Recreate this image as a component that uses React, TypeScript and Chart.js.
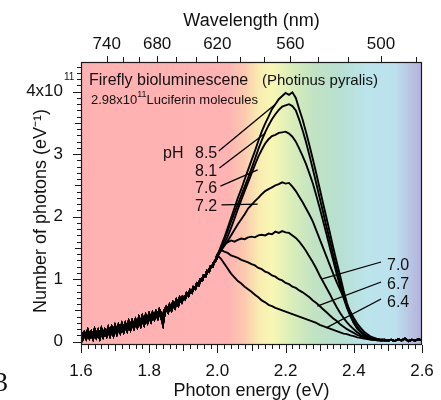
import React, { useEffect, useRef } from "react";
import { Chart, registerables } from "chart.js";

Chart.register(...registerables);

const FONT = '"Liberation Sans", Arial, Helvetica, sans-serif';
const HC = 1239.84; // eV·nm, photon energy = HC / wavelength

// ---- axis ticks / labels ----
const energyTicks = [1.6, 1.8, 2.0, 2.2, 2.4, 2.6];
const countTicks = [0, 1, 2, 3, 4];
const countTickLabels = ["0", "1", "2", "3", "4x10"];
const wavelengthLabels = [740, 680, 620, 560, 500];
const wavelengthMinor = [740, 720, 700, 680, 660, 640, 620, 600, 580, 560, 540, 520, 500, 480];

// ---- shared low-energy rise (all pH) ----
const riseEnergy = [
  1.6, 1.605, 1.61, 1.615, 1.62, 1.625, 1.63, 1.635, 1.64, 1.645,
  1.65, 1.655, 1.66, 1.665, 1.67, 1.675, 1.68, 1.685, 1.69, 1.695,
  1.7, 1.705, 1.71, 1.715, 1.72, 1.725, 1.73, 1.735, 1.74, 1.745,
  1.75, 1.755, 1.76, 1.765, 1.77, 1.775, 1.78, 1.785, 1.79, 1.795,
  1.8, 1.805, 1.81, 1.815, 1.82, 1.825, 1.83, 1.835, 1.84, 1.845,
  1.85, 1.855, 1.86, 1.865, 1.87, 1.875, 1.88, 1.885, 1.89, 1.895,
  1.9, 1.905, 1.91, 1.915, 1.92, 1.925, 1.93, 1.935, 1.94, 1.945,
  1.95, 1.955, 1.96, 1.965, 1.97, 1.975, 1.98, 1.985, 1.99, 1.995,
];
const riseCounts = [
  0.15, 0.06, 0.13, 0.07, 0.16, 0.08, 0.14, 0.07, 0.17, 0.09,
  0.16, 0.08, 0.18, 0.10, 0.17, 0.11, 0.20, 0.12, 0.21, 0.13,
  0.23, 0.15, 0.24, 0.17, 0.26, 0.18, 0.27, 0.20, 0.30, 0.22,
  0.31, 0.24, 0.33, 0.26, 0.36, 0.28, 0.38, 0.30, 0.40, 0.33,
  0.42, 0.35, 0.44, 0.38, 0.46, 0.40, 0.49, 0.43, 0.32, 0.49,
  0.54, 0.49, 0.57, 0.52, 0.61, 0.56, 0.65, 0.60, 0.69, 0.65,
  0.73, 0.69, 0.77, 0.74, 0.82, 0.79, 0.87, 0.85, 0.93, 0.91,
  0.99, 0.98, 1.06, 1.05, 1.13, 1.12, 1.20, 1.20, 1.27, 1.30,
];

// ---- pH-dependent part ----
const branchEnergy = [
  2.0, 2.01, 2.02, 2.03, 2.04, 2.05, 2.06, 2.07, 2.08, 2.09,
  2.1, 2.11, 2.12, 2.13, 2.14, 2.15, 2.16, 2.17, 2.18, 2.19,
  2.2, 2.21, 2.22, 2.23, 2.24, 2.25, 2.26, 2.27, 2.28, 2.29,
  2.3, 2.31, 2.32, 2.33, 2.34, 2.35, 2.36, 2.37, 2.38, 2.39,
  2.4, 2.41, 2.42, 2.43, 2.44, 2.45, 2.46, 2.47, 2.48, 2.49, 2.5,
];
const ph85 = [
  1.38, 1.52, 1.66, 1.82, 1.98, 2.14, 2.30, 2.44, 2.60, 2.75,
  2.90, 3.05, 3.21, 3.36, 3.49, 3.60, 3.72, 3.80, 3.88, 3.93,
  3.98, 3.95, 3.99, 3.90, 3.72, 3.55, 3.35, 3.14, 2.92, 2.69,
  2.45, 2.21, 1.98, 1.74, 1.50, 1.27, 1.05, 0.82, 0.62, 0.45,
  0.33, 0.24, 0.17, 0.12, 0.09, 0.07, 0.05, 0.04, 0.03, 0.03, 0.02,
];
const ph81 = [
  1.38, 1.50, 1.63, 1.77, 1.92, 2.06, 2.20, 2.34, 2.48, 2.62,
  2.77, 2.92, 3.08, 3.22, 3.35, 3.46, 3.56, 3.64, 3.71, 3.76,
  3.78, 3.80, 3.77, 3.70, 3.55, 3.38, 3.19, 2.98, 2.76, 2.53,
  2.30, 2.07, 1.84, 1.61, 1.38, 1.16, 0.95, 0.75, 0.57, 0.42,
  0.30, 0.21, 0.15, 0.11, 0.08, 0.06, 0.05, 0.04, 0.03, 0.03, 0.02,
];
const ph76 = [
  1.36, 1.47, 1.57, 1.68, 1.82, 1.97, 2.12, 2.27, 2.41, 2.55,
  2.69, 2.83, 2.96, 3.07, 3.17, 3.24, 3.29, 3.31, 3.34, 3.35,
  3.36, 3.33, 3.28, 3.20, 3.09, 2.97, 2.84, 2.69, 2.53, 2.34,
  2.14, 1.93, 1.72, 1.50, 1.29, 1.08, 0.88, 0.70, 0.54, 0.41,
  0.30, 0.22, 0.16, 0.11, 0.08, 0.06, 0.05, 0.04, 0.03, 0.02, 0.02,
];
const ph72 = [
  1.36, 1.45, 1.53, 1.61, 1.70, 1.79, 1.88, 1.96, 2.04, 2.13,
  2.19, 2.25, 2.30, 2.36, 2.41, 2.44, 2.47, 2.50, 2.52, 2.55,
  2.53, 2.54, 2.48, 2.41, 2.32, 2.23, 2.13, 2.03, 1.92, 1.78,
  1.64, 1.50, 1.36, 1.22, 1.08, 0.95, 0.83, 0.71, 0.59, 0.48,
  0.38, 0.29, 0.22, 0.16, 0.12, 0.08, 0.06, 0.04, 0.03, 0.03, 0.02,
];
const ph70 = [
  1.38, 1.48, 1.55, 1.59, 1.62, 1.60, 1.63, 1.65, 1.64, 1.67,
  1.68, 1.67, 1.70, 1.71, 1.70, 1.73, 1.72, 1.76, 1.74, 1.77,
  1.75, 1.74, 1.70, 1.66, 1.60, 1.53, 1.45, 1.36, 1.27, 1.17,
  1.06, 0.96, 0.86, 0.76, 0.65, 0.55, 0.46, 0.38, 0.31, 0.25,
  0.20, 0.15, 0.11, 0.08, 0.06, 0.04, 0.03, 0.03, 0.02, 0.03, 0.02,
];
const ph67 = [
  1.40, 1.47, 1.44, 1.42, 1.38, 1.36, 1.34, 1.31, 1.29, 1.27,
  1.24, 1.22, 1.18, 1.16, 1.12, 1.10, 1.06, 1.04, 1.00, 0.98,
  0.94, 0.92, 0.88, 0.86, 0.82, 0.79, 0.75, 0.71, 0.66, 0.62,
  0.57, 0.52, 0.47, 0.42, 0.37, 0.33, 0.28, 0.24, 0.20, 0.17,
  0.14, 0.11, 0.09, 0.07, 0.05, 0.04, 0.03, 0.03, 0.02, 0.02, 0.02,
];
const ph64 = [
  1.38, 1.33, 1.25, 1.17, 1.09, 1.03, 0.97, 0.93, 0.88, 0.84,
  0.80, 0.75, 0.71, 0.66, 0.63, 0.59, 0.57, 0.54, 0.52, 0.50,
  0.48, 0.46, 0.44, 0.42, 0.40, 0.38, 0.36, 0.34, 0.32, 0.30,
  0.27, 0.25, 0.23, 0.21, 0.19, 0.17, 0.15, 0.13, 0.12, 0.10,
  0.09, 0.07, 0.06, 0.05, 0.04, 0.03, 0.03, 0.02, 0.02, 0.02, 0.02,
];

// ---- shared flat tail ----
const tailEnergy = [2.51, 2.52, 2.53, 2.54, 2.55, 2.56, 2.57, 2.58, 2.59, 2.6];
const tailCounts = [0.03, 0.01, 0.04, 0.02, 0.05, 0.01, 0.03, 0.02, 0.04, 0.02];

const seriesNames = ["8.5", "8.1", "7.6", "7.2", "7.0", "6.7", "6.4"];
const seriesValues = [ph85, ph81, ph76, ph72, ph70, ph67, ph64];

function buildSeries(values: number[]) {
  const pts: { x: number; y: number }[] = [];
  riseEnergy.forEach((e, i) => pts.push({ x: e, y: riseCounts[i] }));
  branchEnergy.forEach((e, i) => pts.push({ x: e, y: values[i] }));
  tailEnergy.forEach((e, i) => pts.push({ x: e, y: tailCounts[i] }));
  return pts;
}

const spectrumStops: [number, string][] = [
  [1.6, "#FFB1B1"],
  [2.03, "#FFB3B3"],
  [2.08, "#FCCAAF"],
  [2.12, "#F9EBB0"],
  [2.16, "#F8F7B3"],
  [2.22, "#D9EDBA"],
  [2.28, "#C2E3C2"],
  [2.36, "#B7E0D2"],
  [2.44, "#BBE4EC"],
  [2.52, "#BCE1EE"],
  [2.6, "#B5B0DA"],
];

const noPad = (s: any) => {
  s.paddingLeft = 0;
  s.paddingRight = 0;
  s.paddingTop = 0;
  s.paddingBottom = 0;
};

const decorPlugin = {
  id: "decor",
  beforeDatasetsDraw(chart: any) {
    const { ctx, chartArea: a, scales } = chart;
    const x = scales.x;
    const x0 = x.getPixelForValue(1.6);
    const x1 = x.getPixelForValue(2.6);
    const g = ctx.createLinearGradient(x0, 0, x1, 0);
    spectrumStops.forEach(([e, c]) => g.addColorStop((e - 1.6) / 1.0, c));
    ctx.save();
    ctx.fillStyle = g;
    ctx.fillRect(a.left, a.top, a.right - a.left, a.bottom - a.top);
    ctx.restore();
  },
  afterDatasetsDraw(chart: any) {
    const { ctx, chartArea: a, scales } = chart;
    const x = scales.x;
    const y = scales.y;
    ctx.save();
    ctx.strokeStyle = "#1a1a1a";
    ctx.lineWidth = 1;
    ctx.beginPath();
    for (let i = 0; i <= 50; i++) {
      const e = 1.6 + i * 0.02;
      const px = Math.round(x.getPixelForValue(e)) + 0.5;
      const len = i % 10 === 0 ? 8 : i % 5 === 0 ? 6 : 4;
      ctx.moveTo(px, a.bottom);
      ctx.lineTo(px, a.bottom + len);
    }
    for (let i = 0; i <= 44; i++) {
      const v = i * 0.1;
      const py = Math.round(y.getPixelForValue(v)) + 0.5;
      const len = i % 10 === 0 ? 8 : i % 5 === 0 ? 6 : 4;
      ctx.moveTo(a.left, py);
      ctx.lineTo(a.left - len, py);
    }
    wavelengthMinor.forEach((w) => {
      const px = Math.round(x.getPixelForValue(HC / w)) + 0.5;
      const len = wavelengthLabels.includes(w) ? 6 : 5;
      ctx.moveTo(px, a.top);
      ctx.lineTo(px, a.top - len);
    });
    ctx.stroke();
    ctx.lineWidth = 1.2;
    ctx.strokeRect(a.left + 0.5, a.top + 0.5, a.right - a.left - 1, a.bottom - a.top - 1);
    ctx.restore();
  },
  afterDraw(chart: any) {
    const { ctx, scales } = chart;
    const x = scales.x;
    const y = scales.y;
    const P = (e: number, v: number) => [x.getPixelForValue(e), y.getPixelForValue(v)];
    ctx.save();
    ctx.fillStyle = "#111";
    ctx.textBaseline = "middle";
    ctx.textAlign = "left";

    ctx.font = `10px ${FONT}`;
    ctx.fillText("11", 64, 77);

    ctx.font = `16px ${FONT}`;
    ctx.fillText("Firefly bioluminescene", 89, 81);
    ctx.font = `15px ${FONT}`;
    ctx.fillText("(Photinus pyralis)", 262, 81);
    let xx = 91;
    ctx.font = `13px ${FONT}`;
    ctx.fillText("2.98x10", xx, 100);
    xx += ctx.measureText("2.98x10").width;
    ctx.font = `9px ${FONT}`;
    ctx.fillText("11", xx, 95);
    xx += ctx.measureText("11").width;
    ctx.font = `13px ${FONT}`;
    ctx.fillText("Luciferin molecules", xx, 100);

    ctx.font = `16px ${FONT}`;
    ctx.fillText("pH", 163, 154);
    const leftY = [154, 172, 189, 207];
    for (let i = 0; i < 4; i++) ctx.fillText(seriesNames[i], 195, leftY[i]);
    const rightY = [266, 285, 303];
    for (let i = 0; i < 3; i++) ctx.fillText(seriesNames[4 + i], 387, rightY[i]);

    const leaders: [number, number, number, number][] = [
      [2.004, 3.05, 2.17, 3.8],
      [2.006, 2.78, 2.141, 3.34],
      [2.009, 2.49, 2.118, 2.75],
      [2.012, 2.19, 2.118, 2.2],
      [2.48, 1.275, 2.305, 1.0],
      [2.48, 0.955, 2.293, 0.57],
      [2.48, 0.683, 2.319, 0.22],
    ];
    ctx.strokeStyle = "#000";
    ctx.lineWidth = 1.3;
    ctx.beginPath();
    leaders.forEach(([e0, v0, e1, v1]) => {
      const [ax, ay] = P(e0, v0);
      const [bx, by] = P(e1, v1);
      ctx.moveTo(ax, ay);
      ctx.lineTo(bx, by);
    });
    ctx.stroke();

    ctx.font = `28px "Liberation Serif", "DejaVu Serif", serif`;
    ctx.fillText("3", -6, 384);
    ctx.restore();
  },
};

export default function App() {
  const ref = useRef<HTMLCanvasElement | null>(null);
  useEffect(() => {
    document.body.style.margin = "0";
    const canvas = ref.current;
    if (!canvas) return;
    const datasets = seriesValues.map((vals, i) => ({
      label: "pH " + seriesNames[i],
      data: buildSeries(vals),
      borderColor: "#000",
      borderWidth: 1.9,
      pointRadius: 0,
      fill: false,
      tension: 0,
      segment: {
        borderWidth: (c: any) => (c.p0.parsed.x < 1.9 ? 3 : c.p0.parsed.x < 2.0 ? 2.4 : 1.9),
      },
    }));
    const tickFont = { family: FONT, size: 17 };
    const titleFont = { family: FONT, size: 18, lineHeight: 1 };
    const chart = new Chart(canvas, {
      type: "line",
      data: { datasets },
      options: {
        responsive: false,
        animation: false,
        devicePixelRatio: 1,
        parsing: false as any,
        layout: { padding: { left: 0, right: 19, top: 0, bottom: 0 } },
        plugins: { legend: { display: false }, tooltip: { enabled: false } },
        scales: {
          x: {
            type: "linear",
            position: "bottom",
            min: 1.6,
            max: 2.6,
            afterBuildTicks: (s: any) => {
              s.ticks = energyTicks.map((v) => ({ value: v }));
            },
            afterFit: (s: any) => {
              s.height = 55;
              noPad(s);
            },
            grid: { display: false, drawTicks: false },
            border: { display: false },
            ticks: {
              autoSkip: false,
              maxRotation: 0,
              padding: 16,
              color: "#111",
              font: tickFont,
              callback: (v: any) => Number(v).toFixed(1),
            },
            title: {
              display: true,
              text: "Photon energy (eV)",
              color: "#111",
              font: titleFont,
              padding: { top: 0, bottom: 0 },
            },
          },
          x2: {
            type: "linear",
            position: "top",
            min: 1.6,
            max: 2.6,
            afterBuildTicks: (s: any) => {
              s.ticks = wavelengthLabels.map((w) => ({ value: HC / w }));
            },
            afterFit: (s: any) => {
              s.height = 62;
              noPad(s);
            },
            grid: { display: false, drawTicks: false },
            border: { display: false },
            ticks: {
              autoSkip: false,
              maxRotation: 0,
              padding: 7,
              color: "#111",
              font: tickFont,
              callback: (v: any) => String(Math.round(HC / Number(v))),
            },
            title: {
              display: true,
              text: "Wavelength (nm)",
              color: "#111",
              font: titleFont,
              padding: { top: 12, bottom: 0 },
            },
          },
          y: {
            type: "linear",
            position: "left",
            min: -0.053,
            max: 4.475,
            afterBuildTicks: (s: any) => {
              s.ticks = countTicks.map((v) => ({ value: v }));
            },
            afterFit: (s: any) => {
              s.width = 81;
              noPad(s);
            },
            grid: { display: false, drawTicks: false },
            border: { display: false },
            ticks: {
              autoSkip: false,
              padding: 18,
              color: "#111",
              font: tickFont,
              callback: (v: any) => {
                const idx = countTicks.indexOf(Number(v));
                return idx >= 0 ? countTickLabels[idx] : "";
              },
            },
            title: {
              display: true,
              text: "Number of photons (eV⁻¹)   ",
              color: "#111",
              font: titleFont,
              padding: { top: 32, bottom: 0 },
            },
          },
        },
      } as any,
      plugins: [decorPlugin],
    });
    return () => chart.destroy();
  }, []);
  return <canvas ref={ref} width={441} height={400} style={{ display: "block" }} />;
}
